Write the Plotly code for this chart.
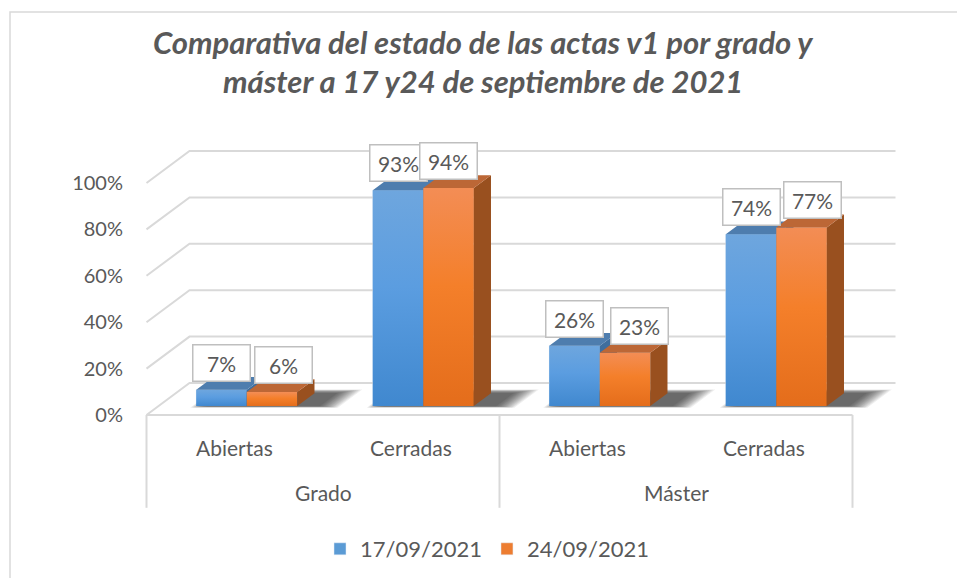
import plotly.graph_objects as go

# --- data ---
groups = ["Grado", "Máster"]
states = ["Abiertas", "Cerradas"]
series_names = ["17/09/2021", "24/09/2021"]
values_17 = [7, 93, 26, 74]
values_24 = [6, 94, 23, 77]
y_ticks = [0, 20, 40, 60, 80, 100]
y_tick_labels = ["0%", "20%", "40%", "60%", "80%", "100%"]
title_lines = [
    "Comparativa del estado de las actas v1 por grado y",
    "máster a 17 y24 de septiembre de 2021",
]

# --- look ---
TEXT = "#595959"
GRID = "#D9D9D9"
FONT = "Lato"
BLUE = "#5B9BD5"
ORANGE = "#ED7D31"
BLUE_FRONT = [[0, "#4088CF"], [0.55, "#5B9DE0"], [1, "#6EA6DE"]]
ORANGE_FRONT = [[0, "#E46D1B"], [0.55, "#F47F2A"], [1, "#F38D55"]]
BLUE_TOP, BLUE_SIDE = "#4E7DAE", "#3F6E9E"
ORANGE_TOP, ORANGE_SIDE = "#BC6736", "#99501F"
ORANGE_LABEL_SHIFT = [11, 0, 14, 11]

# oblique 3d box geometry, in axis units (1 category = 176.5px, 1% = 2.32px)
X_PX = 176.5
Y_PX = 2.32
DEPTH_X = 43 / X_PX
DEPTH_Y = 32 / Y_PX
BAR_D = 0.28
SIDE_D = 0.40
BAR_W = 50.5 / X_PX
SDX, SDY = SIDE_D * DEPTH_X, SIDE_D * DEPTH_Y

n_cat = len(groups) * len(states)
cat_x = list(range(n_cat))
cat_labels = [s for g in groups for s in states]
bar_cx = [i + BAR_D * DEPTH_X for i in cat_x]
base = BAR_D * DEPTH_Y
x_left, x_right = -0.5, n_cat - 0.5


def poly(xs, ys, **kw):
    return go.Scatter(x=xs, y=ys, mode="none", fill="toself", hoverinfo="skip",
                      showlegend=False, **kw)


def faces(xl, xr, top):
    front = ([xl, xr, xr, xl, xl], [base, base, top, top, base])
    lid = ([xl, xr, xr + SDX, xl + SDX, xl], [top, top, top + SDY, top + SDY, top])
    side = ([xr, xr + SDX, xr + SDX, xr, xr], [base, base + SDY, top + SDY, top, base])
    return front, lid, side


def floor_quad(xa, xb, d0, d1):
    xs = [xa + d0 * DEPTH_X, xb + d0 * DEPTH_X, xb + d1 * DEPTH_X, xa + d1 * DEPTH_X, xa + d0 * DEPTH_X]
    ys = [d0 * DEPTH_Y, d0 * DEPTH_Y, d1 * DEPTH_Y, d1 * DEPTH_Y, d0 * DEPTH_Y]
    return xs, ys


fig = go.Figure()

# real bars (legend + data); the 3d faces are drawn over them
fig.add_trace(go.Bar(x=[c - BAR_W / 2 for c in bar_cx], y=values_17, base=base, width=BAR_W,
                     name=series_names[0], marker_color=BLUE, hoverinfo="skip"))
fig.add_trace(go.Bar(x=[c + BAR_W / 2 for c in bar_cx], y=values_24, base=base, width=BAR_W,
                     name=series_names[1], marker_color=ORANGE, hoverinfo="skip"))

# walls: gridlines on left and back wall, floor edge, category dividers
gx, gy = [], []
for v in y_ticks:
    gx += [x_left, x_left + DEPTH_X, x_right + DEPTH_X, None]
    gy += [v, v + DEPTH_Y, v + DEPTH_Y, None]
gx += [x_left, x_right, None]
gy += [0, 0, None]
for xd in [x_left, x_left + len(states), x_right]:
    gx += [xd, xd, None]
    gy += [0, -40, None]
fig.add_trace(go.Scatter(x=gx, y=gy, mode="lines", line=dict(color=GRID, width=2),
                         hoverinfo="skip", showlegend=False))

# soft floor shadows, many stacked translucent quads to fake a blur
n_blur = 14
for k in range(n_blur):
    e = (n_blur - k) / n_blur
    sx, sy = [], []
    for c in bar_cx:
        xa = c - BAR_W - e * 16 / X_PX
        xb = c + BAR_W + SDX * 0.5 + e * 22 / X_PX
        d0 = BAR_D - e * 0.05
        d1 = BAR_D + SIDE_D + e * 0.12
        qx, qy = floor_quad(xa, xb, d0, d1)
        sx += qx + [None]
        sy += qy + [None]
    fig.add_trace(poly(sx, sy, fillcolor="rgba(30,30,30,0.07)"))

# 3d columns, blue first so orange overlaps it
for vals, xoff, front_cs, top_c, side_c in [
    (values_17, -BAR_W, BLUE_FRONT, BLUE_TOP, BLUE_SIDE),
    (values_24, 0.0, ORANGE_FRONT, ORANGE_TOP, ORANGE_SIDE),
]:
    tops_x, tops_y, sides_x, sides_y = [], [], [], []
    for c, v in zip(bar_cx, vals):
        xl = c + xoff
        front, lid, side = faces(xl, xl + BAR_W, base + v)
        tops_x += lid[0] + [None]
        tops_y += lid[1] + [None]
        sides_x += side[0] + [None]
        sides_y += side[1] + [None]
        fig.add_trace(poly(*front, fillgradient=dict(type="vertical", colorscale=front_cs)))
    fig.add_trace(poly(sides_x, sides_y, fillcolor=side_c))
    fig.add_trace(poly(tops_x, tops_y, fillcolor=top_c))

L, R, T, B = 140, 42, 130, 58
W, H = 957, 578
pw, ph = W - L - R, H - T - B


def px_x(p):
    return (p - L) / pw


def px_y(p):
    return (T + ph - p) / ph


annotations = []
# value labels
for j, vals in enumerate([values_17, values_24]):
    for i, (c, v) in enumerate(zip(bar_cx, vals)):
        xc = c - BAR_W / 2 if j == 0 else c + BAR_W / 2
        annotations.append(dict(
            x=xc, y=base + v, xref="x", yref="y", text=f"{v}%", showarrow=False,
            yanchor="bottom", yshift=8, xshift=0 if j == 0 else ORANGE_LABEL_SHIFT[i],
            font=dict(family=FONT, size=21, color=TEXT), bgcolor="white",
            bordercolor="#BFBFBF", borderwidth=1.5, borderpad=5, width=46,
        ))
# category axis labels
for i, lab in zip(cat_x, cat_labels):
    annotations.append(dict(x=i, y=-14.2, xref="x", yref="y", text=lab, showarrow=False,
                            font=dict(family=FONT, size=21, color=TEXT)))
for g, name in enumerate(groups):
    annotations.append(dict(x=g * len(states) + (len(states) - 1) / 2, y=-33.6, xref="x", yref="y",
                            text=name, showarrow=False, font=dict(family=FONT, size=21, color=TEXT)))
# title
for k, line in enumerate(title_lines):
    annotations.append(dict(x=px_x(483), y=px_y(42 + k * 39), xref="paper", yref="paper",
                            text=line, showarrow=False, xanchor="center", yanchor="middle",
                            font=dict(family=FONT, size=31, color=TEXT, weight="bold", style="italic")))

fig.update_layout(
    width=W, height=H,
    margin=dict(l=L, r=R, t=T, b=B, autoexpand=False),
    paper_bgcolor="white", plot_bgcolor="white",
    barmode="overlay",
    annotations=annotations,
    xaxis=dict(range=[(L - 234.75) / X_PX, (L + pw - 234.75) / X_PX], visible=False, fixedrange=True),
    yaxis=dict(range=[-(T + ph - 415) / Y_PX, (415 - T) / Y_PX], tickvals=y_ticks, ticktext=y_tick_labels,
               showgrid=False, zeroline=False, showline=False, ticklabelstandoff=16,
               tickfont=dict(family=FONT, size=20, color=TEXT), fixedrange=True),
    legend=dict(orientation="h", x=px_x(487), xanchor="center", y=px_y(549),
                yanchor="middle", font=dict(family=FONT, size=22, color=TEXT), traceorder="normal"),
    shapes=[dict(type="rect", xref="paper", yref="paper",
                 x0=px_x(10), x1=px_x(W + 5), y0=px_y(H + 5), y1=px_y(12),
                 line=dict(color=GRID, width=1.5), layer="below")],
)

fig.write_html("out.html", config={"displayModeBar": False},
               post_script="document.body.style.margin='0';")
